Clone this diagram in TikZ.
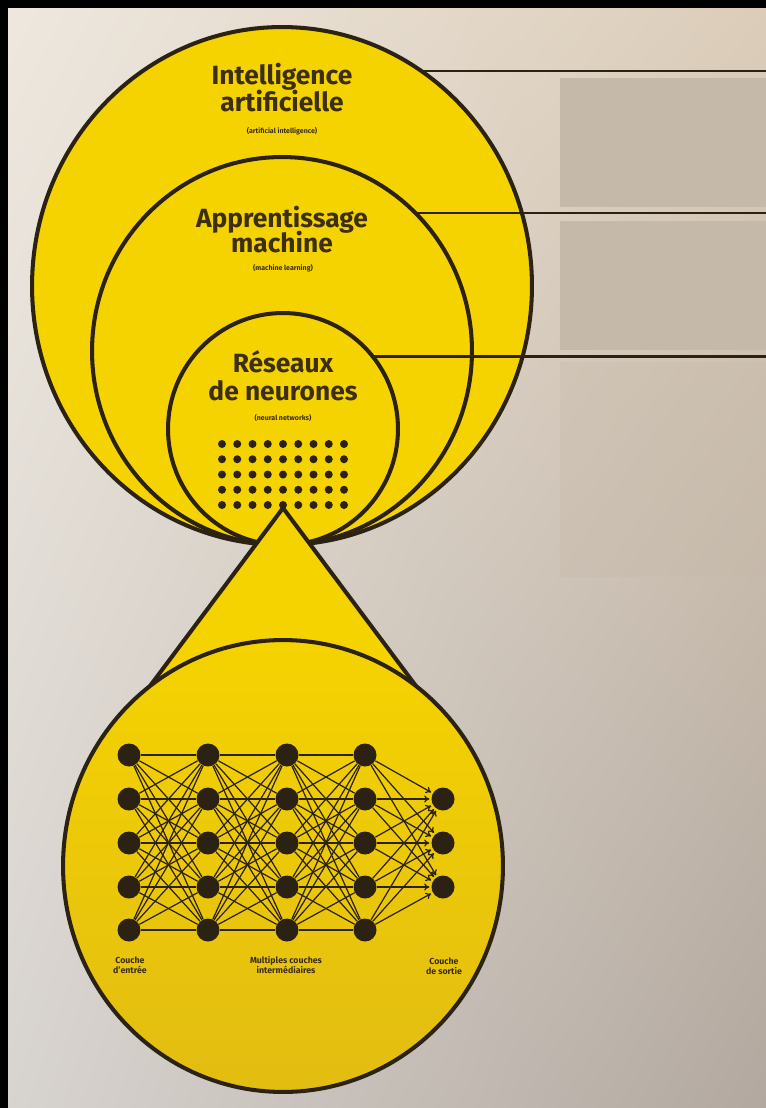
\documentclass[tikz,border=0pt]{standalone}
\usepackage{fontspec}
\setmainfont{Fira Sans}
\usetikzlibrary{arrows.meta, shapes.geometric, shadings}
\definecolor{jaune}{HTML}{F5D300}
\definecolor{jaunefonce}{HTML}{E2BD12}
\definecolor{encre}{HTML}{2B2214}
\definecolor{texte}{HTML}{3C2E12}
\definecolor{panneau}{HTML}{C5B9A9}
\definecolor{fondhg}{HTML}{EEE8DF}
\definecolor{fondhd}{HTML}{DCCDB9}
\definecolor{fondbg}{HTML}{D8D4D0}
\definecolor{fondbd}{HTML}{B2A89F}

\begin{document}
\begin{tikzpicture}[x=0.02cm, y=-0.02cm,
  zone/.style={ellipse, draw=encre, line width=2.3pt, fill=jaune, inner sep=0pt, outer sep=0pt},
  lien/.style={draw=encre, line width=1.5pt},
  titre/.style={font=\bfseries\fontsize{15}{15}\selectfont, text=texte, anchor=base, inner sep=0pt},
  anglais/.style={font=\bfseries\fontsize{4}{4.5}\selectfont, text=texte, anchor=base, inner sep=0pt},
  legende/.style={font=\bfseries\fontsize{5}{5.8}\selectfont, text=texte, align=center, anchor=north, inner sep=0pt},
  neurone/.style={circle, fill=encre, minimum size=0.46cm, inner sep=0pt},
  synapse/.style={draw=encre, line width=0.7pt}]
\useasboundingbox (0,0) rectangle (766,1108);
\shade[upper left=fondhg, upper right=fondhd, lower left=fondbg, lower right=fondbd] (0,0) rectangle (766,1108);
\fill[black] (0,0) rectangle (766,8);
\fill[black] (0,0) rectangle (8,1108);
\fill[panneau] (560,78) rectangle (766,207);
\fill[panneau] (560,221) rectangle (766,350);
\fill[panneau, opacity=0.3] (560,362) rectangle (766,577);

\node[zone, minimum width=10cm, minimum height=10.36cm] (ai) at (282,286) {};
\node[zone, minimum width=7.6cm, minimum height=7.76cm] (ml) at (282,351) {};
\node[zone, minimum width=4.6cm, minimum height=4.64cm] (nn) at (283,429) {};

\coordinate (bord) at (766,0);
\draw[lien] (ai.57) -- (ai.57 -| bord);
\draw[lien] (ml.46) -- (ml.46 -| bord);
\draw[lien] (nn.39) -- (nn.39 -| bord);

\node[titre] (ai-t1) at (282,85) {Intelligence};
\node[titre] (ai-t2) at (282,112) {artificielle};
\node[anglais] (ai-t3) at (282,134) {(artificial intelligence)};
\node[titre] (ml-t1) at (282,228) {Apprentissage};
\node[titre] (ml-t2) at (282,253) {machine};
\node[anglais] (ml-t3) at (283,270) {(machine learning)};
\node[titre] (nn-t1) at (283,372) {Réseaux};
\node[titre] (nn-t2) at (283,400) {de neurones};
\node[anglais] (nn-t3) at (283,420) {(neural networks)};

\coordinate (sommet) at (283,508);
\coordinate (pied-g) at (150,686);
\coordinate (pied-d) at (416,686);
\fill[jaune] (sommet) -- (pied-g) -- (pied-d) -- cycle;
\draw[encre, line width=2.3pt, line join=round] (pied-g) -- (sommet) -- (pied-d);

\foreach \i in {0,...,8}
  \foreach \j in {0,...,4}
    \fill[encre] (222+15.25*\i, 444+15.25*\j) circle (4);

\node[zone, top color=jaune, bottom color=jaunefonce, minimum width=8.8cm, minimum height=9.04cm] (bas) at (283,866) {};

\foreach \c/\x in {1/129,2/208,3/287,4/365}
  \foreach \r/\y in {1/755,2/799,3/843,4/887,5/930}
    \node[neurone] (n\c-\r) at (\x,\y) {};
\foreach \r/\y in {1/799,2/843,3/887}
  \node[neurone] (s\r) at (443,\y) {};

\foreach \c/\d in {1/2,2/3,3/4}
  \foreach \a in {1,...,5}
    \foreach \b in {1,...,5}
      \draw[synapse] (n\c-\a) -- (n\d-\b);
\foreach \a in {1,...,5}
  \foreach \b in {1,2,3}
    \draw[synapse, -{To[length=3pt,width=4pt]}, shorten >=1pt] (n4-\a) -- (s\b);

\node[legende] (lbl-entree) at (130,956) {Couche\\d'entrée};
\node[legende] (lbl-milieu) at (286,956) {Multiples couches\\intermédiaires};
\node[legende] (lbl-sortie) at (444,957) {Couche\\de sortie};
\end{tikzpicture}
\end{document}
